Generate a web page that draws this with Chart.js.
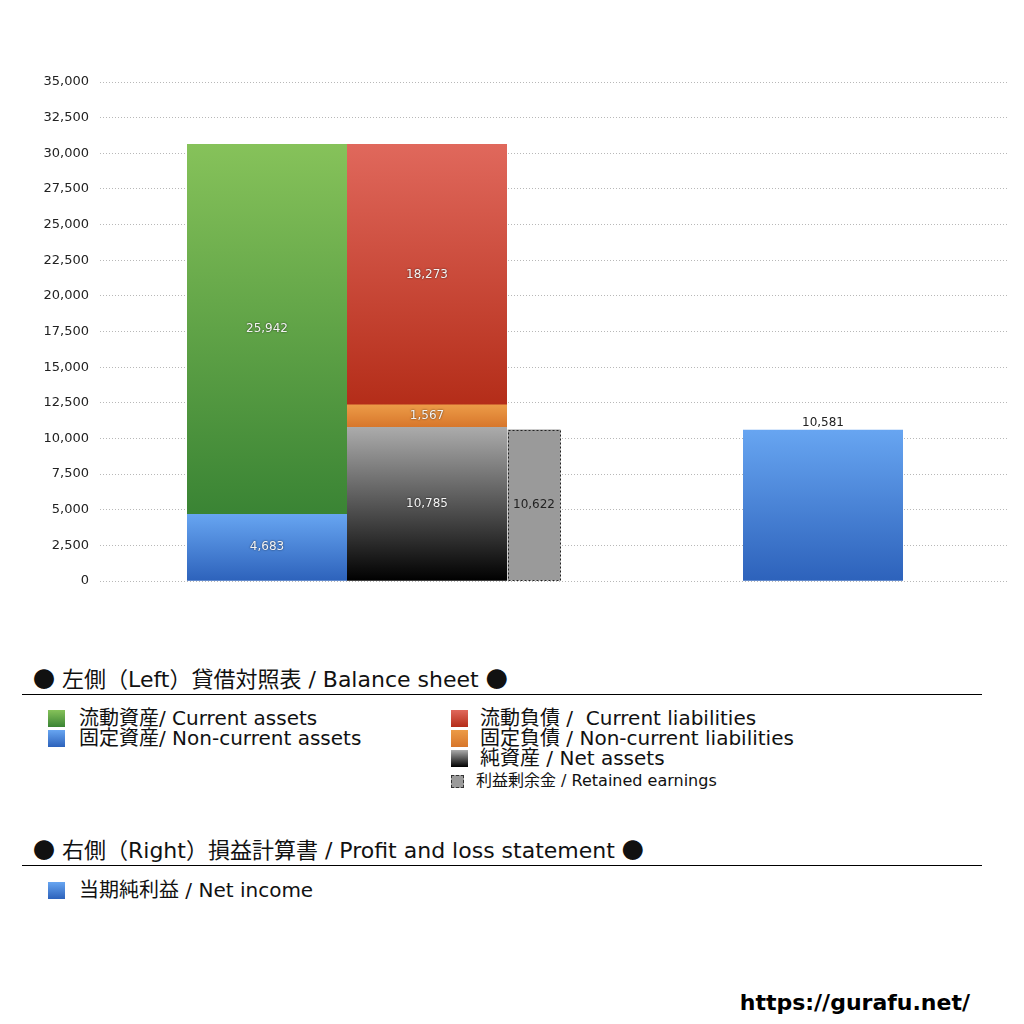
<!DOCTYPE html>
<html lang="ja">
<head>
<meta charset="utf-8">
<title>貸借対照表 / 損益計算書</title>
<script src="https://cdn.jsdelivr.net/npm/chart.js@4/dist/chart.umd.min.js"></script>
<style>
  body { margin: 0; background: #fff; font-family: "DejaVu Sans", "Noto Sans CJK JP", sans-serif; color: #111; }
  #page { position: relative; width: 1024px; height: 1024px; overflow: hidden; }
  #chart { position: absolute; left: 0; top: 0; }
  .head { position: absolute; left: 33px; font-size: 22px; line-height: 26px; white-space: nowrap; }
  .head .dot { font-family: "Noto Sans CJK JP", sans-serif; }
  .rule { position: absolute; left: 22px; width: 960px; height: 1px; background: #000; }
  .item { position: absolute; font-size: 20px; line-height: 20px; white-space: pre; }
  .item .sw { position: absolute; left: 0; top: 2px; width: 17px; height: 17px; }
  .item .txt { position: absolute; left: 31px; top: 0; }
  .item.right .txt { left: 29px; }
  .item.small { font-size: 16px; }
  .item.small .sw { top: 4px; width: 11px; height: 11px; border: 1px dashed #333; }
  .item.small .txt { left: 25px; }
  .url { position: absolute; right: 54px; top: 990px; font: bold 22px "DejaVu Sans", sans-serif; color: #000; }
</style>
</head>
<body>
<div id="page">
  <canvas id="chart" width="1024" height="600"></canvas>
  <div id="legend"></div>
  <div class="url">https://gurafu.net/</div>
</div>
<script>
// values (millions)
const columns = ['資産', '負債・純資産', '利益剰余金', '当期純利益'];
const currentAssets = [25942];
const nonCurrentAssets = [4683];
const currentLiabilities = [18273];
const nonCurrentLiabilities = [1567];
const netAssets = [10785];
const retainedEarnings = [10622];
const netIncome = [10581];

const yMin = 0;
const yMax = 35000;
const yStep = 2500;

const bsHeading = ['左側（Left）貸借対照表 / Balance sheet'];
const plHeading = ['右側（Right）損益計算書 / Profit and loss statement'];
const names = {
    currentAssets: '流動資産/ Current assets',
    nonCurrentAssets: '固定資産/ Non-current assets',
    currentLiabilities: '流動負債 /  Current liabilities',
    nonCurrentLiabilities: '固定負債 / Non-current liabilities',
    netAssets: '純資産 / Net assets',
    retainedEarnings: '利益剰余金 / Retained earnings',
    netIncome: '当期純利益 / Net income'
};

// colours (top of gradient, bottom of gradient)
const colors = {
    currentAssets: ['#86c25a', '#3a8434'],
    nonCurrentAssets: ['#67a5f1', '#2d62bb'],
    currentLiabilities: ['#e0685c', '#b42d19'],
    nonCurrentLiabilities: ['#ec9b47', '#d7762b'],
    netAssets: ['#ababab', '#000000'],
    retainedEarnings: ['#9a9a9a', '#9a9a9a'],
    netIncome: ['#67a5f1', '#2d62bb']
};

// horizontal slots of the plot, each one a hidden category axis (widths in px)
const slots = [
    { id: 'xPadL', weight: 87 },
    { id: 'xAssets', weight: 160, label: columns[0] },
    { id: 'xLiab', weight: 160, label: columns[1] },
    { id: 'xRetained', weight: 54, label: columns[2] },
    { id: 'xGap', weight: 182 },
    { id: 'xIncome', weight: 160, label: columns[3] },
    { id: 'xPadR', weight: 104 }
];

function gradientFill(from, to, pair) {
    return function(context) {
        const chart = context.chart;
        const y = chart.scales.y;
        if (!chart.chartArea || !y) return pair[1];
        const g = chart.ctx.createLinearGradient(0, y.getPixelForValue(to), 0, y.getPixelForValue(from));
        g.addColorStop(0, pair[0]);
        g.addColorStop(1, pair[1]);
        return g;
    };
}

// build one stacked column, layers listed bottom to top
function column(axis, layers) {
    let base = 0;
    return layers.map(layer => {
        const top = base + layer.data[0];
        const ds = {
            label: names[layer.key],
            data: layer.data,
            xAxisID: axis,
            grouped: false, // one column per x axis, no side by side bars
            backgroundColor: gradientFill(base, top, colors[layer.key]),
            borderWidth: 0,
            barPercentage: layer.barPercentage || 1,
            categoryPercentage: 1,
            labelPos: layer.labelPos || 'inside',
            labelColor: layer.labelColor || '#f4f4f4',
            dashed: !!layer.dashed
        };
        base = top;
        return ds;
    });
}

const datasets = [].concat(
    column('xAssets', [
        { key: 'nonCurrentAssets', data: nonCurrentAssets },
        { key: 'currentAssets', data: currentAssets }
    ]),
    column('xLiab', [
        { key: 'netAssets', data: netAssets },
        { key: 'nonCurrentLiabilities', data: nonCurrentLiabilities },
        { key: 'currentLiabilities', data: currentLiabilities }
    ]),
    column('xRetained', [
        { key: 'retainedEarnings', data: retainedEarnings, barPercentage: 0.98, labelColor: '#222', dashed: true }
    ]),
    column('xIncome', [
        { key: 'netIncome', data: netIncome, labelPos: 'above', labelColor: '#222' }
    ])
);

const scales = {
    y: {
        stacked: true,
        min: yMin,
        max: yMax,
        afterFit: scale => { scale.width = 100; },
        ticks: {
            stepSize: yStep,
            padding: 11,
            color: '#222',
            font: { family: '"DejaVu Sans", sans-serif', size: 13 },
            callback: v => v.toLocaleString('en-US')
        },
        grid: { color: '#b8b8b8', drawTicks: false, lineWidth: 1 },
        border: { display: false, dash: [1, 2] }
    }
};
slots.forEach(s => {
    scales[s.id] = {
        type: 'category',
        axis: 'x',
        position: 'bottom',
        labels: [s.label || ''],
        stack: 'columns',
        stackWeight: s.weight,
        offset: true,
        display: false,
        grid: { display: false }
    };
});

// value labels and dashed outline for retained earnings
const barDecorations = {
    id: 'barDecorations',
    afterDatasetsDraw(chart) {
        const ctx = chart.ctx;
        chart.data.datasets.forEach((ds, i) => {
            const meta = chart.getDatasetMeta(i);
            meta.data.forEach((bar, j) => {
                const left = bar.x - bar.width / 2;
                ctx.save();
                if (ds.dashed) {
                    ctx.strokeStyle = '#222';
                    ctx.lineWidth = 1;
                    ctx.setLineDash([2, 2]);
                    ctx.strokeRect(Math.round(left) + 0.5, Math.round(bar.y) + 0.5, Math.round(bar.width) - 1, Math.round(bar.base - bar.y) - 1);
                }
                ctx.setLineDash([]);
                ctx.font = '12px "DejaVu Sans", sans-serif';
                ctx.textAlign = 'center';
                ctx.fillStyle = ds.labelColor;
                const text = ds.data[j].toLocaleString('en-US');
                if (ds.labelPos === 'above') {
                    ctx.textBaseline = 'bottom';
                    ctx.fillText(text, bar.x, bar.y - 1);
                } else {
                    ctx.textBaseline = 'middle';
                    if (!ds.dashed) {
                        ctx.shadowColor = 'rgba(0,0,0,0.7)';
                        ctx.shadowBlur = 2;
                    }
                    ctx.fillText(text, bar.x, (bar.y + bar.base) / 2);
                }
                ctx.restore();
            });
        });
    }
};

new Chart(document.getElementById('chart'), {
    type: 'bar',
    data: { datasets: datasets },
    options: {
        responsive: false,
        animation: false,
        layout: { padding: { top: 82, bottom: 19, left: 0, right: 17 } },
        scales: scales,
        plugins: {
            legend: { display: false },
            tooltip: { enabled: false }
        }
    },
    plugins: [barDecorations]
});

// legend below the chart
const legend = document.getElementById('legend');
function addHead(text, top) {
    const d = document.createElement('div');
    d.className = 'head';
    d.style.top = top + 'px';
    const dot = '<span class="dot">●</span>';
    d.innerHTML = dot + ' ' + text + ' ' + dot;
    legend.appendChild(d);
}
function addRule(top) {
    const d = document.createElement('div');
    d.className = 'rule';
    d.style.top = top + 'px';
    legend.appendChild(d);
}
function addItem(key, left, top, extra) {
    const d = document.createElement('div');
    d.className = 'item' + (extra ? ' ' + extra : '');
    d.style.left = left + 'px';
    d.style.top = top + 'px';
    const sw = document.createElement('div');
    sw.className = 'sw';
    sw.style.background = 'linear-gradient(' + colors[key][0] + ',' + colors[key][1] + ')';
    const t = document.createElement('div');
    t.className = 'txt';
    t.textContent = names[key];
    d.appendChild(sw);
    d.appendChild(t);
    legend.appendChild(d);
}

addHead(bsHeading[0], 664);
addRule(694);
addItem('currentAssets', 48, 708);
addItem('nonCurrentAssets', 48, 728);
addItem('currentLiabilities', 451, 708, 'right');
addItem('nonCurrentLiabilities', 451, 728, 'right');
addItem('netAssets', 451, 748, 'right');
addItem('retainedEarnings', 451, 771, 'small');

addHead(plHeading[0], 835);
addRule(865);
addItem('netIncome', 48, 880);
</script>
</body>
</html>
